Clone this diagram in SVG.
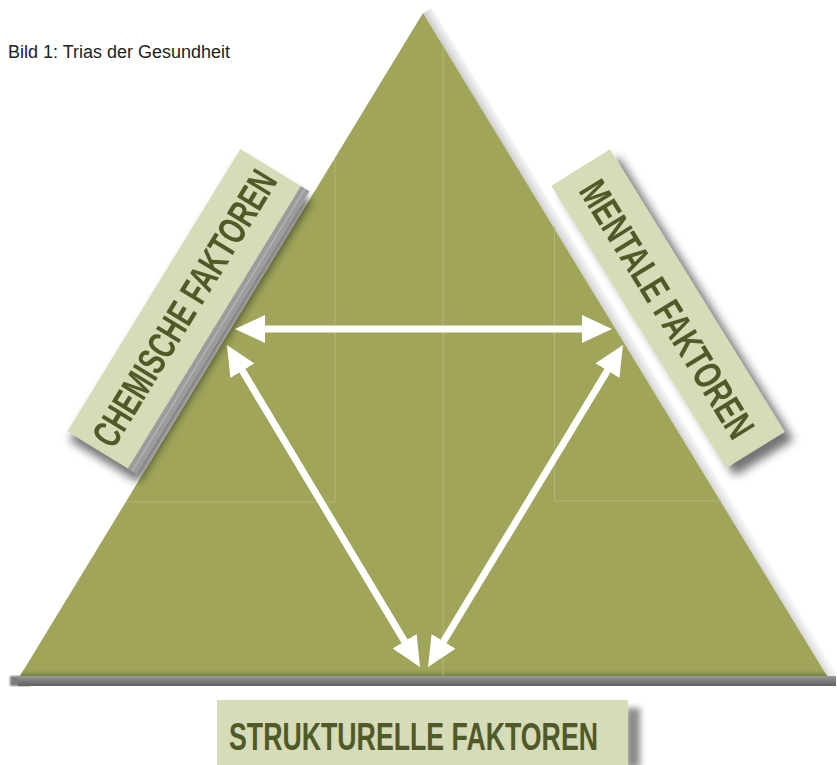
<svg xmlns="http://www.w3.org/2000/svg" width="837" height="765" viewBox="0 0 837 765">
  <style>
    .lbl { fill: #d6dbb8; }
    .lbltxt { font-family: "Liberation Sans", Arial, sans-serif; font-weight: bold; font-size: 39px; fill: #4f5a28; }
    .conn { stroke: #ffffff; stroke-width: 7; fill: none; }
    .grid { stroke: #b3b779; stroke-width: 1; fill: none; }
  </style>
  <defs>
    <marker id="ah" viewBox="0 0 30 28" refX="15" refY="14" markerWidth="30" markerHeight="28" markerUnits="userSpaceOnUse" orient="auto-start-reverse">
      <path d="M0,0 L30,14 L0,28 Z" fill="#ffffff"/>
    </marker>
    <filter id="shL" x="-30%" y="-30%" width="160%" height="160%">
      <feGaussianBlur in="SourceAlpha" stdDeviation="5"/>
      <feOffset dx="2" dy="9"/>
      <feComponentTransfer><feFuncA type="linear" slope="0.55"/></feComponentTransfer>
      <feMerge><feMergeNode/><feMergeNode in="SourceGraphic"/></feMerge>
    </filter>
    <filter id="shR" x="-30%" y="-30%" width="160%" height="160%">
      <feGaussianBlur in="SourceAlpha" stdDeviation="5"/>
      <feOffset dx="9" dy="8"/>
      <feComponentTransfer><feFuncA type="linear" slope="0.55"/></feComponentTransfer>
      <feMerge><feMergeNode/><feMergeNode in="SourceGraphic"/></feMerge>
    </filter>
    <filter id="blur3" x="-50%" y="-10%" width="200%" height="120%"><feGaussianBlur stdDeviation="3"/></filter>
    <filter id="blur1"><feGaussianBlur stdDeviation="1.2"/></filter>
    <linearGradient id="bottomBand" x1="0" y1="0" x2="0" y2="1">
      <stop offset="0" stop-color="#9a9a9a"/>
      <stop offset="0.5" stop-color="#7a7a7a"/>
      <stop offset="1" stop-color="#626262"/>
    </linearGradient>
    <linearGradient id="greenBottom" x1="0" y1="0" x2="0" y2="1">
      <stop offset="0" stop-color="#a0a55a" stop-opacity="0"/>
      <stop offset="1" stop-color="#737d36"/>
    </linearGradient>
    <linearGradient id="rightBevel" gradientUnits="userSpaceOnUse" x1="624.8" y1="345" x2="633.4" y2="339.8">
      <stop offset="0" stop-color="#cfcfcf"/>
      <stop offset="0.5" stop-color="#e6e6e6"/>
      <stop offset="1" stop-color="#f7f7f7"/>
    </linearGradient>
  </defs>

  <g id="title">
    <text x="8" y="58" font-family="Liberation Sans, Arial, sans-serif" font-size="18" fill="#222222" textLength="222" lengthAdjust="spacingAndGlyphs">Bild 1: Trias der Gesundheit</text>
  </g>

  <g id="triangle">
    <polygon points="423,13 432,8 836,672 836,684 827,676" fill="url(#rightBevel)"/>
    <rect x="10" y="676" width="20" height="10" fill="#7a7a7a" filter="url(#blur1)"/>
    <rect x="18" y="676" width="818" height="10" fill="url(#bottomBand)"/>
    <polygon points="423,13 20,676 827,676" fill="#a0a55a"/>
    <polygon points="24,668 822,668 827,676 20,676" fill="url(#greenBottom)"/>
    <line class="grid" x1="335" y1="159" x2="335" y2="502"/>
    <line class="grid" x1="126" y1="502" x2="335" y2="502"/>
    <line class="grid" x1="554.5" y1="227" x2="554.5" y2="501"/>
    <line class="grid" x1="554.5" y1="501" x2="721" y2="501"/>
    <line class="grid" x1="443" y1="45" x2="443" y2="676"/>
  </g>

  <g id="node-chemisch" filter="url(#shL)">
    <g transform="translate(184,308) rotate(-58.5)">
      <rect x="-166" y="35" width="331" height="11" fill="#9c9c9c"/>
      <line x1="-166" y1="41" x2="165" y2="41" stroke="#bcbcbc" stroke-width="1"/>
      <rect class="lbl" x="-166" y="-35" width="331" height="71"/>
      <text class="lbltxt" x="0" y="14" text-anchor="middle" textLength="316" lengthAdjust="spacingAndGlyphs">CHEMISCHE FAKTOREN</text>
    </g>
  </g>

  <g id="node-mental" filter="url(#shR)">
    <g transform="translate(667.5,309) rotate(58.3)">
      <rect class="lbl" x="-166" y="-35" width="332" height="69"/>
      <text class="lbltxt" x="0" y="14" text-anchor="middle" textLength="295" lengthAdjust="spacingAndGlyphs">MENTALE FAKTOREN</text>
    </g>
  </g>

  <g id="node-strukturell">
    <rect x="626" y="708" width="14" height="60" fill="#8a8a8a" filter="url(#blur3)"/>
    <rect class="lbl" x="217" y="700" width="411" height="70"/>
    <text class="lbltxt" x="413.5" y="750" text-anchor="middle" textLength="369" lengthAdjust="spacingAndGlyphs">STRUKTURELLE FAKTOREN</text>
  </g>

  <g id="connectors">
    <line class="conn" x1="250" y1="329" x2="597" y2="329" marker-start="url(#ah)" marker-end="url(#ah)"/>
    <line class="conn" x1="234.7" y1="357.9" x2="412.3" y2="654.1" marker-start="url(#ah)" marker-end="url(#ah)"/>
    <line class="conn" x1="615.2" y1="357.8" x2="435.8" y2="654.2" marker-start="url(#ah)" marker-end="url(#ah)"/>
  </g>
</svg>
